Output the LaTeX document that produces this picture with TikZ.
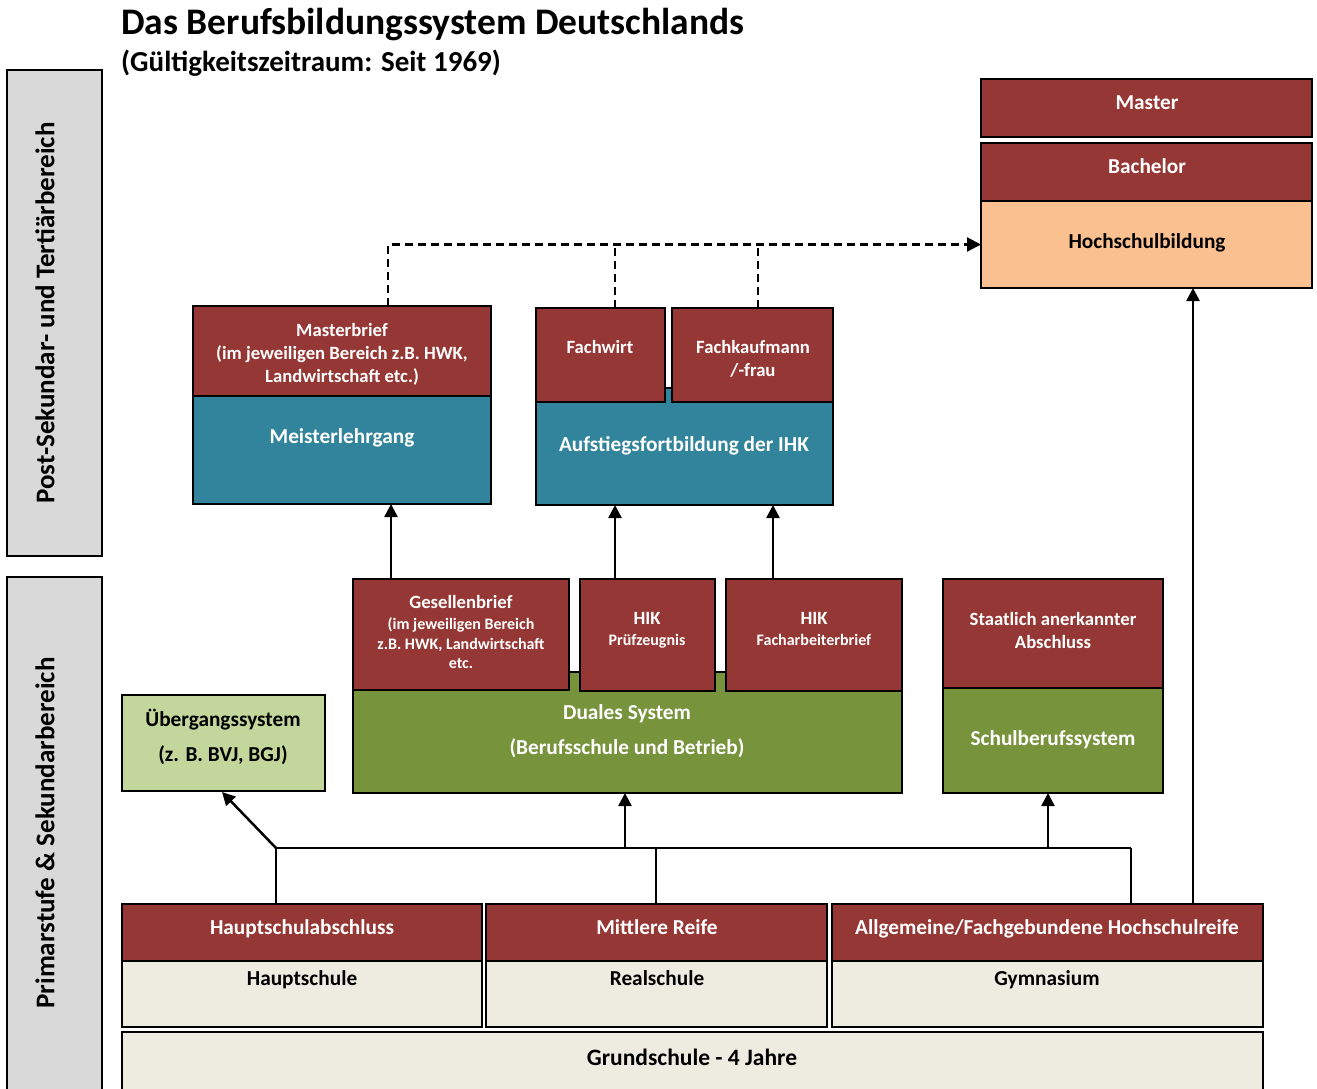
\documentclass[tikz,border=0pt]{standalone}
\usepackage{fontspec}
\setmainfont{Carlito}
\usetikzlibrary{arrows.meta,calc}
\definecolor{brick}{HTML}{953735}
\definecolor{teal}{HTML}{31849B}
\definecolor{olive}{HTML}{77933C}
\definecolor{lightolive}{HTML}{C3D69B}
\definecolor{peach}{HTML}{FAC090}
\definecolor{cream}{HTML}{EEECE1}
\definecolor{sidegray}{HTML}{D9D9D9}
\newcommand\fs[2]{\fontsize{#1}{#2}\selectfont\bfseries}
\begin{document}
\begin{tikzpicture}[x=1pt,y=-1pt,
  box/.style={draw=black, line width=2.5pt, rectangle, inner sep=0pt, outer sep=0pt, anchor=north west},
  wtext/.style={text=white, align=center, inner sep=0pt},
  btext/.style={text=black, align=center, inner sep=0pt},
  big/.style={font=\fs{21.3}{25}, text height=17pt, text depth=3.3pt},
  mid/.style={font=\fs{18.7}{23}, text height=15pt, text depth=3pt},
  small/.style={font=\fs{16}{19}, text height=13pt, text depth=2.7pt},
  arr/.style={draw=black, line width=2.5pt, -{Triangle[length=13pt,width=13pt]}},
  dashline/.style={draw=black, line width=2.2pt, dash pattern=on 8pt off 5pt},
  tree/.style={draw=black, line width=1.6pt}]
\useasboundingbox (0,0) rectangle (1317,1088);

% heading
\node[anchor=base west, inner sep=0pt, font=\fs{37.5}{42}] (title) at (121,34) {Das Berufsbildungssystem Deutschlands};
\node[anchor=base west, inner sep=0pt, font=\fs{29}{33}] (subtitle) at (121,71) {(Gültigkeitszeitraum: Seit 1969)};

% side bands
\node[box, fill=sidegray, minimum width=95pt, minimum height=486pt] (post) at (7,70) {};
\node[btext, rotate=90, font=\fs{27}{30}] (postT) at (45,313) {Post-Sekundar- und Tertiärbereich};
\node[box, fill=sidegray, minimum width=95pt, minimum height=530pt] (prim) at (7,577) {};
\node[btext, rotate=90, font=\fs{27}{30}] (primT) at (45,833) {Primarstufe \& Sekundarbereich};

% university
\node[box, fill=brick, minimum width=331pt, minimum height=58pt] (master) at (981,79) {};
\node[wtext, big] (masterT) at (1147,103) {Master};
\node[box, fill=peach, minimum width=331pt, minimum height=87pt] (hochschul) at (981,201) {};
\node[box, fill=brick, minimum width=331pt, minimum height=58pt] (bachelor) at (981,143) {};
\node[wtext, big] (bachelorT) at (1147,167) {Bachelor};
\node[btext, big] (hochschulT) at (1147,242) {Hochschulbildung};

% master craftsman
\node[box, fill=teal, minimum width=298pt, minimum height=108pt] (meister) at (193,396) {};
\node[box, fill=brick, minimum width=298pt, minimum height=90pt] (masterbrief) at (193,306) {};
\node[wtext, font=\fs{18.7}{23}] (masterbriefT) at (342,354) {Masterbrief\\(im jeweiligen Bereich z.B. HWK,\\Landwirtschaft etc.)};
\node[wtext, big] (meisterT) at (342,437) {Meisterlehrgang};

% IHK further training
\node[box, fill=teal, minimum width=297pt, minimum height=117pt] (aufstieg) at (536,388) {};
\node[box, fill=brick, minimum width=129pt, minimum height=94pt] (fachwirt) at (536,308) {};
\node[box, fill=brick, minimum width=161pt, minimum height=94pt] (fachkauf) at (672,308) {};
\node[wtext, mid] (fachwirtT) at (600,347) {Fachwirt};
\node[wtext, font=\fs{18.7}{23}] (fachkaufT) at (753,359) {Fachkaufmann\\/-frau};
\node[wtext, big] (aufstiegT) at (684,445) {Aufstiegsfortbildung der IHK};

% dual system
\node[box, fill=olive, minimum width=549pt, minimum height=121pt] (duales) at (353,672) {};
\node[box, fill=brick, minimum width=216pt, minimum height=111pt] (gesellen) at (353,579) {};
\node[box, fill=brick, minimum width=135pt, minimum height=112pt] (hikp) at (580,579) {};
\node[box, fill=brick, minimum width=176pt, minimum height=112pt] (hikf) at (726,579) {};
\node[wtext, mid] (gesellenT) at (461,602) {Gesellenbrief};
\node[wtext, font=\fs{16}{19.5}] (gesellenS) at (461,643.5) {(im jeweiligen Bereich\\z.B. HWK, Landwirtschaft\\etc.};
\node[wtext, mid] (hikpT) at (647,618) {HIK};
\node[wtext, small] (hikpS) at (647,640) {Prüfzeugnis};
\node[wtext, mid] (hikfT) at (814,618) {HIK};
\node[wtext, small] (hikfS) at (814,640) {Facharbeiterbrief};
\node[wtext, font=\fs{21.3}{35}] (dualesT) at (627,731.5) {Duales System\\(Berufsschule und Betrieb)};

% school-based vocational system
\node[box, fill=olive, minimum width=220pt, minimum height=105pt] (schul) at (943,688) {};
\node[box, fill=brick, minimum width=220pt, minimum height=109pt] (staatl) at (943,579) {};
\node[wtext, font=\fs{18.7}{23}] (staatlT) at (1053,630.5) {Staatlich anerkannter\\Abschluss};
\node[wtext, big] (schulT) at (1053,739) {Schulberufssystem};

% transition system
\node[box, fill=lightolive, minimum width=203pt, minimum height=96pt] (ueb) at (122,695) {};
\node[btext, font=\fs{21.3}{35}] (uebT) at (223,736.5) {Übergangssystem\\(z. B. BVJ, BGJ)};

% secondary schools
\node[box, fill=brick, minimum width=360pt, minimum height=57pt] (hsa) at (122,904) {};
\node[box, fill=cream, minimum width=360pt, minimum height=66pt] (hs) at (122,961) {};
\node[box, fill=brick, minimum width=341pt, minimum height=57pt] (mra) at (486,904) {};
\node[box, fill=cream, minimum width=341pt, minimum height=66pt] (rs) at (486,961) {};
\node[box, fill=brick, minimum width=431pt, minimum height=57pt] (aha) at (832,904) {};
\node[box, fill=cream, minimum width=431pt, minimum height=66pt] (gym) at (832,961) {};
\node[wtext, big] (hsaT) at (302,928) {Hauptschulabschluss};
\node[btext, big] (hsT) at (302,979) {Hauptschule};
\node[wtext, big] (mraT) at (657,928) {Mittlere Reife};
\node[btext, big] (rsT) at (657,979) {Realschule};
\node[wtext, big] (ahaT) at (1047,928) {Allgemeine/Fachgebundene Hochschulreife};
\node[btext, big] (gymT) at (1047,979) {Gymnasium};

% primary school
\node[box, fill=cream, minimum width=1141pt, minimum height=80pt] (grund) at (122,1032) {};
\node[btext, font=\fs{23.5}{27}, text height=19pt, text depth=3.9pt] (grundT) at (692,1058) {Grundschule - 4 Jahre};

% dashed links into higher education
\coordinate (mbTop) at ($(masterbrief.north west)+(195,0)$);
\coordinate (fwTop) at ($(fachwirt.north west)+(79,0)$);
\coordinate (fkTop) at ($(fachkauf.north west)+(86,0)$);
\draw[dashline, -{Triangle[length=14pt,width=14pt]}] (mbTop) |- (hochschul.west);
\draw[dashline] (fwTop) -- (fwTop |- hochschul.west);
\draw[dashline] (fkTop) -- (fkTop |- hochschul.west);

% vocational qualifications to further training
\coordinate (gsTop) at ($(gesellen.north west)+(38,0)$);
\coordinate (hpTop) at ($(hikp.north west)+(35,0)$);
\coordinate (hfTop) at ($(hikf.north west)+(47,0)$);
\draw[arr] (gsTop) -- (gsTop |- meister.south);
\draw[arr] (hpTop) -- (hpTop |- aufstieg.south);
\draw[arr] (hfTop) -- (hfTop |- aufstieg.south);

% Abitur to university
\coordinate (ahTop) at ($(aha.north west)+(361,0)$);
\draw[arr] (ahTop) -- (ahTop |- hochschul.south);

% school leaving certificates to vocational training
\coordinate (busL) at (276,848);
\coordinate (busR) at (1131,848);
\coordinate (hsaTop) at ($(hsa.north west)+(154,0)$);
\coordinate (mraTop) at ($(mra.north west)+(170,0)$);
\coordinate (ahaTop) at ($(aha.north west)+(299,0)$);
\coordinate (busD) at (625,848);
\coordinate (busS) at (1048,848);
\draw[tree] (hsaTop) |- (busR);
\draw[tree] (mraTop) -- (mraTop |- busL);
\draw[tree] (ahaTop) -- (ahaTop |- busL);
\draw[arr] (busL) -- ($(ueb.south west)+(100,1)$);
\draw[arr] (busD) -- (busD |- duales.south);
\draw[arr] (busS) -- (busS |- schul.south);
\end{tikzpicture}
\end{document}
